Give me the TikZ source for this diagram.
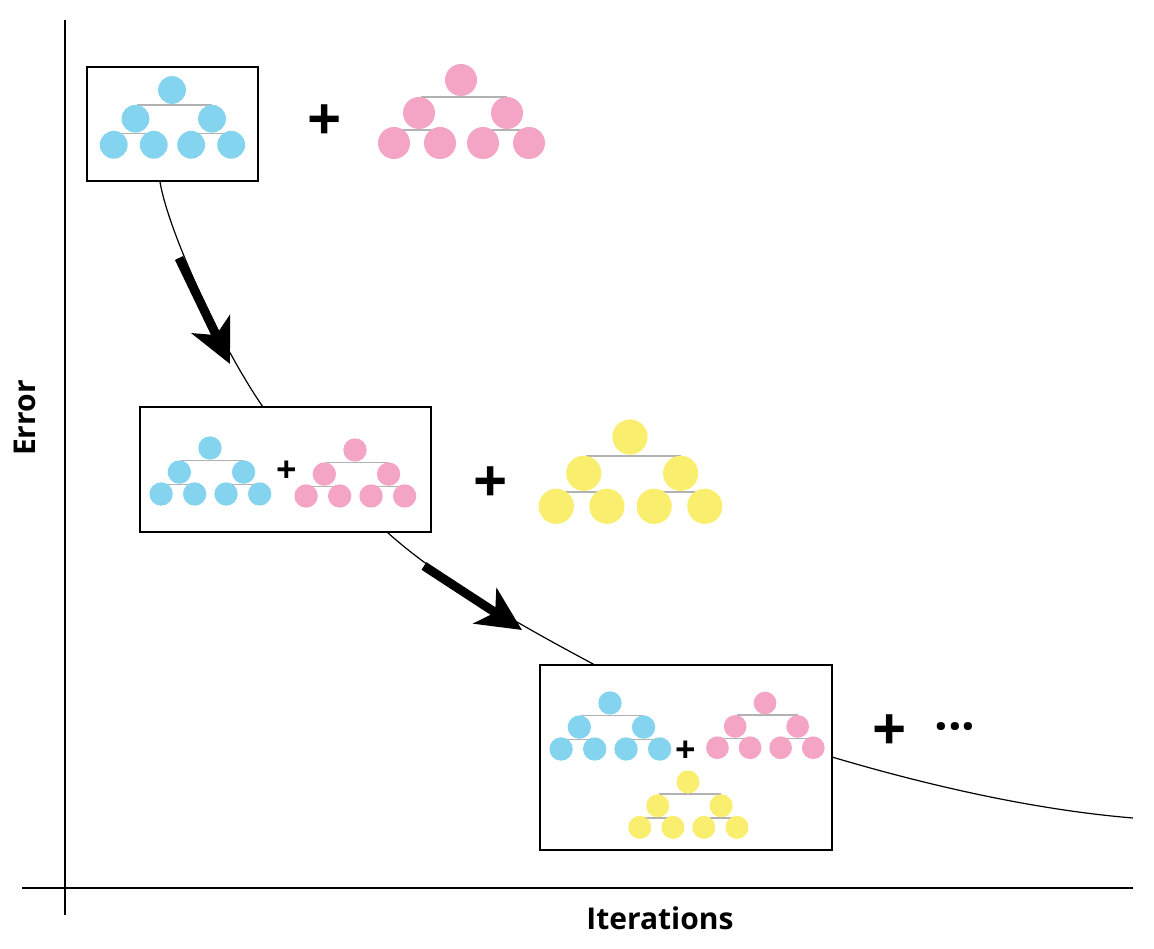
\documentclass[tikz,border=0pt]{standalone}
\usepackage{fontspec}
\setmainfont{Open Sans}
\usetikzlibrary{arrows.meta}
\definecolor{cblue}{RGB}{132,212,240}
\definecolor{cpink}{RGB}{244,164,196}
\definecolor{cyel}{RGB}{250,238,110}
\tikzset{
  box/.style={draw,line width=1.5pt},
  curve/.style={line width=1.2pt},
  big/.style={line width=9pt,-{Stealth[length=44pt,width=42pt,inset=12pt]}},
  plus/.style={font=\bfseries\fontsize{60}{60}\selectfont},
  splus/.style={font=\bfseries\fontsize{36}{36}\selectfont},
  pics/tree/.style={code={
    \draw[gray!60,line width=1.6pt] (-40,17)--(46,17) (-62,50)--(-27,50) (30,50)--(65,50);
    \fill[#1] (0,0) circle (16) (-42,33) circle (16) (46,33) circle (16)
      (-67,63) circle (16) (-21,63) circle (16) (22,63) circle (16) (68,63) circle (16);
  }}
}
\begin{document}
\begin{tikzpicture}[x=1pt,y=-1pt]
\useasboundingbox (0,0) rectangle (1154,949);
% axes
\coordinate (yt) at (65,20); \coordinate (yb) at (65,915);
\coordinate (xl) at (22,888); \coordinate (xr) at (1133,888);
\draw[line width=1.8pt] (yt)--(yb) (xl)--(xr);
\node[rotate=90,font=\bfseries\fontsize{30}{30}\selectfont] (err) at (25,418) {Error};
\node[font=\bfseries\fontsize{30}{30}\selectfont] (it) at (660,918) {Iterations};
% boxes
\node[box,minimum width=171,minimum height=114,inner sep=0] (b1) at (172.5,124) {};
\node[box,minimum width=291,minimum height=125,inner sep=0] (b2) at (285.5,469.5) {};
\node[box,minimum width=292,minimum height=185,inner sep=0] (b3) at (686,757.5) {};
% row 1
\pic[scale=0.87] at (172,90) {tree=cblue};
\node[plus] (p1) at (325,123) {+};
\pic at (461,80) {tree=cpink};
% row 2
\pic[scale=0.73] at (210,448) {tree=cblue};
\node[splus] (p2) at (287,472) {+};
\pic[scale=0.73] at (355,450) {tree=cpink};
\node[plus] (p3) at (491,485) {+};
\pic[scale=1.1] at (630,437) {tree=cyel};
% row 3
\pic[scale=0.73] at (610,703) {tree=cblue};
\node[splus] (p4) at (686,752) {+};
\pic[scale=0.71] at (765,703) {tree=cpink};
\pic[scale=0.72] at (688,782) {tree=cyel};
\node[plus] (p5) at (890,733) {+};
\node[font=\bfseries\fontsize{48}{48}\selectfont] (dots) at (955,733) {···};
% curves
\coordinate (c1a) at (160,182); \coordinate (c1b) at (263,407);
\coordinate (c2a) at (387,532); \coordinate (c2b) at (595,665);
\coordinate (c3a) at (832,757); \coordinate (c3b) at (1133,818);
\draw[curve] (c1a) .. controls (168,230) and (220,345) .. (c1b);
\draw[curve] (c2a) .. controls (440,580) and (520,625) .. (c2b);
\draw[curve] (c3a) .. controls (960,795) and (1060,812) .. (c3b);
\coordinate (a1s) at (179,258); \coordinate (a1e) at (230,364);
\coordinate (a2s) at (424,566); \coordinate (a2e) at (522,630);
\draw[big] (a1s)--(a1e);
\draw[big] (a2s)--(a2e);
\end{tikzpicture}
\end{document}
